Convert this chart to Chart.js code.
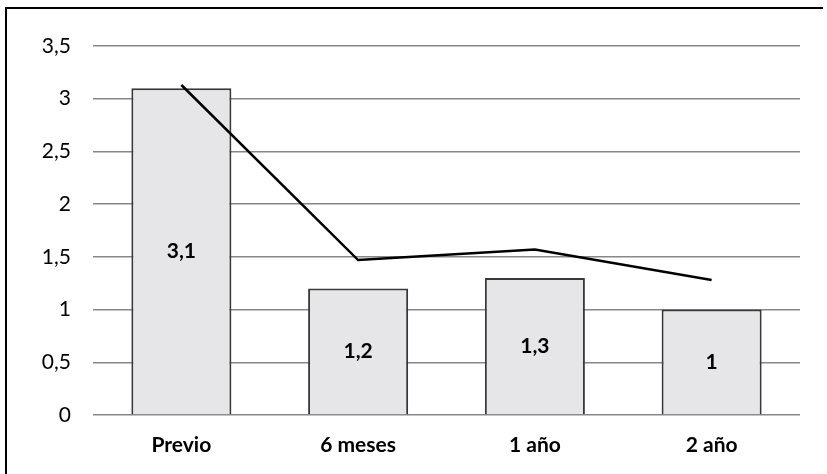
<!DOCTYPE html>
<html>
<head>
<meta charset="utf-8">
<script src="https://cdn.jsdelivr.net/npm/chart.js@4/dist/chart.umd.min.js"></script>
<style>
  html, body { margin: 0; padding: 0; background: #fff; }
  #wrap { position: relative; width: 827px; height: 474px; }
</style>
</head>
<body>
<div id="wrap"><canvas id="chart" width="827" height="474"></canvas></div>
<script>
// Periodos de seguimiento
const categories = ['Previo', '6 meses', '1 año', '2 año'];
// Valores medios (barras)
const barValues = [3.1, 1.2, 1.3, 1];
// Tendencia (línea)
const lineValues = [3.13, 1.47, 1.57, 1.28];
// Marcas del eje Y
const yTicks = [0, 0.5, 1, 1.5, 2, 2.5, 3, 3.5];

const FONT = 'Lato, "Open Sans", sans-serif';
const fmt = v => String(v).replace('.', ',');

// Marco exterior (bordes superior e izquierdo)
const framePlugin = {
  id: 'frame',
  afterDraw(chart) {
    const ctx = chart.ctx;
    ctx.save();
    ctx.strokeStyle = '#000';
    ctx.lineWidth = 2;
    ctx.beginPath();
    ctx.moveTo(6, 474);
    ctx.lineTo(6, 8);
    ctx.lineTo(823, 8);
    ctx.stroke();
    ctx.restore();
  }
};

// Etiquetas de valor centradas en cada barra
const barLabels = {
  id: 'barLabels',
  afterDatasetsDraw(chart) {
    const meta = chart.getDatasetMeta(1);
    const ctx = chart.ctx;
    ctx.save();
    ctx.font = 'bold 21px ' + FONT;
    ctx.fillStyle = '#000';
    ctx.textAlign = 'center';
    ctx.textBaseline = 'middle';
    meta.data.forEach((bar, i) => {
      const mid = (bar.y + bar.base) / 2;
      ctx.fillText(fmt(barValues[i]), bar.x, mid);
    });
    ctx.restore();
  }
};

new Chart(document.getElementById('chart'), {
  data: {
    labels: categories,
    datasets: [
      {
        type: 'line',
        data: lineValues,
        borderColor: '#000',
        borderWidth: 2.5,
        pointRadius: 0,
        tension: 0,
        fill: false,
        order: 0
      },
      {
        type: 'bar',
        data: barValues,
        backgroundColor: '#e6e6e8',
        borderColor: '#383838',
        borderWidth: 2,
        categoryPercentage: 0.566,
        barPercentage: 1,
        order: 1
      }
    ]
  },
  options: {
    responsive: false,
    animation: false,
    devicePixelRatio: 1,
    layout: { padding: { top: 46, right: 27, left: 0, bottom: 0 } },
    plugins: { legend: { display: false }, tooltip: { enabled: false } },
    scales: {
      x: {
        grid: { display: false, drawTicks: false },
        border: { display: false },
        ticks: {
          color: '#000',
          font: { family: FONT, size: 21, weight: 'bold' },
          padding: 18
        },
        afterFit(scale) { scale.height = 59; }
      },
      y: {
        min: 0,
        max: 3.5,
        afterBuildTicks(scale) { scale.ticks = yTicks.map(v => ({ value: v })); },
        grid: { color: '#878787', lineWidth: 1.5, drawTicks: false },
        border: { display: false },
        ticks: {
          color: '#000',
          font: { family: FONT, size: 21 },
          padding: 22,
          callback: v => fmt(v)
        },
        afterFit(scale) { scale.width = 93; }
      }
    }
  },
  plugins: [framePlugin, barLabels]
});
</script>
</body>
</html>
